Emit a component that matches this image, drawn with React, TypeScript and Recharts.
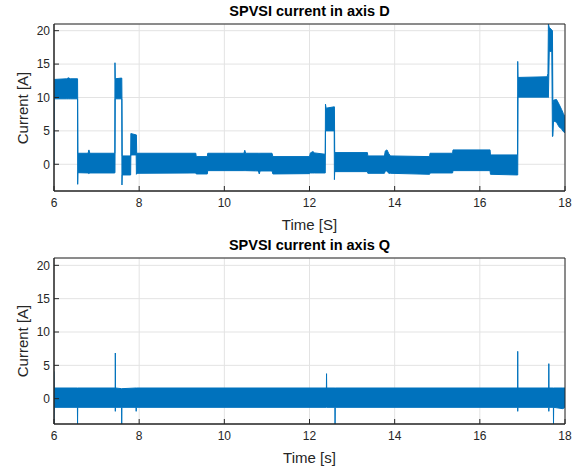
import { ComposedChart, Area, XAxis, YAxis, CartesianGrid, ReferenceArea } from "recharts";

const X_TICKS = [6, 8, 10, 12, 14, 16, 18];
const Y_TICKS = [0, 5, 10, 15, 20];

// axis D: envelope (min / max) of the noisy current
const dTime = [
  6.0, 6.004, 6.3, 6.34, 6.38, 6.553, 6.556, 6.562, 6.8, 6.82, 6.84, 7.428, 7.432, 7.438, 7.58, 7.592,
  7.596, 7.602, 7.8, 7.805, 7.93, 7.935, 7.942, 9.33, 9.34, 9.6, 9.61, 10.46, 10.48, 10.5, 10.8, 10.82,
  10.84, 11.12, 11.14, 12.0, 12.02, 12.08, 12.12, 12.37, 12.375, 12.39, 12.58, 12.585, 12.592, 13.36,
  13.37, 13.76, 13.78, 13.82, 13.86, 13.9, 14.82, 14.83, 15.36, 15.37, 16.24, 16.25, 16.885, 16.89,
  16.897, 17.58, 17.6, 17.61, 17.63, 17.69, 17.705, 17.715, 17.73, 17.8, 17.86, 17.92, 17.96, 18.0,
];
const dLow = [
  0, 9.8, 9.8, 9.8, 9.8, 9.8, -3.0, -1.26, -1.3, -1.4, -1.3, -1.3, -1.2, 9.8, 9.8, 9.8,
  -3.1, -1.6, -1.6, 1.4, 1.4, -1.5, -1.35, -1.3, -1.45, -1.45, -0.95, -0.95, -0.95, -0.95, -1.0, -1.45,
  -1.0, -1.0, -1.45, -1.4, -1.3, -1.3, -1.3, -1.3, 5.0, 5.0, 5.0, -2.3, -1.1, -1.1,
  -1.35, -1.35, -1.0, -1.0, -1.35, -1.35, -1.5, -1.3, -1.3, -0.95, -0.95, -1.5, -1.6, -1.6,
  10.05, 10.05, 10.05, 10.0, 16.9, 16.9, 4.15, 4.2, 6.5, 6.3, 5.6, 5.3, 4.9, 4.7,
];
const dHigh = [
  12.0, 12.7, 12.8, 12.95, 12.8, 12.8, 9.8, 1.65, 1.65, 2.15, 1.65, 1.65, 15.2, 12.8, 12.9, 12.9,
  9.8, 1.25, 1.25, 4.6, 4.4, 4.4, 1.65, 1.65, 1.15, 1.15, 1.65, 1.65, 2.1, 1.65, 1.65, 1.65,
  1.65, 1.65, 1.15, 1.15, 1.7, 1.9, 1.7, 1.5, 9.0, 8.4, 8.6, 8.6, 1.75, 1.75,
  1.25, 1.25, 2.0, 2.15, 1.6, 1.25, 1.15, 1.65, 1.65, 2.15, 2.15, 1.4, 1.4, 15.4,
  13.0, 13.1, 13.6, 21.0, 20.5, 20.1, 20.0, 9.0, 9.6, 9.7, 9.0, 8.2, 7.6, 7.1,
];

// axis Q: envelope of the noisy current
const qTime = [
  6.0, 6.004, 6.55, 6.553, 6.557, 7.437, 7.44, 7.444, 7.587, 7.59, 7.594, 7.927, 7.93, 7.934,
  12.397, 12.4, 12.404, 12.597, 12.6, 12.604, 16.887, 16.89, 16.894, 17.617, 17.62, 17.624,
  17.727, 17.73, 17.734, 17.95, 18.0,
];
const qLow = [
  -3.8, -1.3, -1.3, -3.8, -1.3, -1.3, -1.9, -1.3, -1.3, -3.8, -1.3, -1.3, -1.9, -1.3,
  -1.3, -1.3, -1.3, -1.3, -3.8, -1.3, -1.3, -1.9, -1.3, -1.3, -1.9, -1.3,
  -1.3, -3.8, -1.3, -1.5, -1.3,
];
const qHigh = [
  4.1, 1.6, 1.6, 1.6, 1.6, 1.6, 6.85, 1.6, 1.5, 1.5, 1.5, 1.6, 1.6, 1.6,
  1.6, 3.75, 1.6, 1.6, 1.6, 1.6, 1.6, 7.1, 1.6, 1.6, 5.25, 1.6,
  1.6, 1.6, 1.6, 1.6, 1.6,
];

const dData = dTime.map((t, i) => ({ t, band: [dLow[i], dHigh[i]] }));
const qData = qTime.map((t, i) => ({ t, band: [qLow[i], qHigh[i]] }));

const FONT = '"Liberation Sans", Arial, sans-serif';
const AXIS = "#262626";
const BLUE = "#0072BD";

type PanelProps = {
  data: { t: number; band: number[] }[];
  title: string;
  xLabel: string;
  top: number;
  plotTop: number;
  plotBottom: number;
  yDomain: [number, number];
};

function Panel({ data, title, xLabel, top, plotTop, plotBottom, yDomain }: PanelProps) {
  const h = 236;
  const tickStyle = { fontSize: 12, fill: AXIS, fontFamily: FONT };
  return (
    <div style={{ position: "absolute", left: 0, top, width: 581, height: h }}>
      <ComposedChart
        width={581}
        height={h}
        data={data}
        margin={{ top: plotTop, right: 16, bottom: h - plotBottom - 30, left: 14 }}
      >
        <CartesianGrid stroke="#e3e3e3" strokeWidth={1} />
        <XAxis
          dataKey="t"
          type="number"
          domain={[6, 18]}
          ticks={X_TICKS}
          allowDataOverflow
          height={30}
          tick={tickStyle}
          tickSize={-5}
          tickMargin={12}
          stroke={AXIS}
        />
        <YAxis
          type="number"
          domain={yDomain}
          ticks={Y_TICKS}
          allowDataOverflow
          width={40}
          tick={tickStyle}
          tickSize={-5}
          tickMargin={9}
          stroke={AXIS}
        />
        <Area
          type="linear"
          dataKey="band"
          stroke={BLUE}
          strokeWidth={1}
          fill={BLUE}
          fillOpacity={1}
          dot={false}
          activeDot={false}
          isAnimationActive={false}
        />
        <ReferenceArea
          x1={6}
          x2={18}
          y1={yDomain[0]}
          y2={yDomain[1]}
          fill="none"
          stroke={AXIS}
          strokeWidth={1}
          ifOverflow="visible"
        />
      </ComposedChart>
      <div
        style={{
          position: "absolute", left: 54, width: 511, top: plotTop - 21, textAlign: "center",
          fontFamily: FONT, fontWeight: "bold", fontSize: 14.5, color: "#000", lineHeight: "17px",
        }}
      >
        {title}
      </div>
      <div
        style={{
          position: "absolute", left: 54, width: 511, top: plotBottom + 25, textAlign: "center",
          fontFamily: FONT, fontSize: 15, color: AXIS, lineHeight: "18px",
        }}
      >
        {xLabel}
      </div>
      <div
        style={{
          position: "absolute", left: 23 - 60, width: 120, top: (plotTop + plotBottom) / 2 - 9,
          textAlign: "center", transform: "rotate(-90deg)", fontFamily: FONT, fontSize: 15,
          color: AXIS, lineHeight: "18px",
        }}
      >
        Current [A]
      </div>
    </div>
  );
}

export default function App() {
  return (
    <div style={{ position: "absolute", left: 0, top: 0, width: 581, height: 472, background: "#fff" }}>
      <Panel data={dData} title="SPVSI current in axis D" xLabel="Time [S]" top={0} plotTop={24} plotBottom={191} yDomain={[-4, 21]} />
      <Panel data={qData} title="SPVSI current in axis Q" xLabel="Time [s]" top={236} plotTop={22} plotBottom={188} yDomain={[-3.8, 21.1]} />
    </div>
  );
}
